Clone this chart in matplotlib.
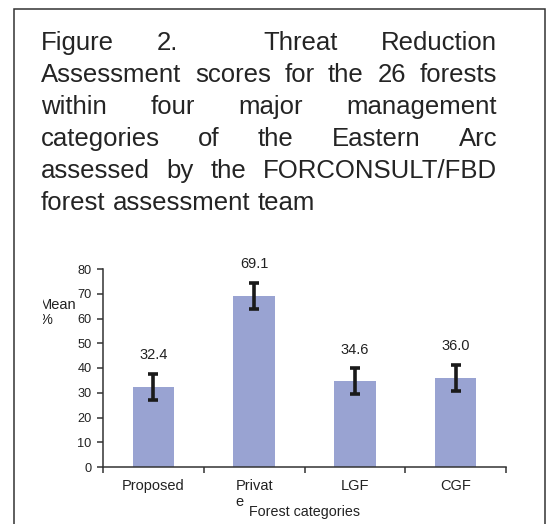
import matplotlib
matplotlib.use("Agg")
import matplotlib.pyplot as plt
from matplotlib.patches import Rectangle
from matplotlib.transforms import Bbox, TransformedBbox

plt.rcParams['font.family'] = ['Liberation Sans', 'DejaVu Sans']

# caption text, one entry per printed line
caption_lines = [
    "Figure 2. Threat Reduction",
    "Assessment scores for the 26 forests",
    "within four major management",
    "categories of the Eastern Arc",
    "assessed by the FORCONSULT/FBD",
    "forest assessment team",
]

categories = ["Proposed", "Privat\ne", "LGF", "CGF"]
mean_scores = [32.4, 69.1, 34.6, 36.0]
score_errors = [5.2, 5.3, 5.2, 5.2]
value_labels = ["32.4", "69.1", "34.6", "36.0"]
y_ticks = [0, 10, 20, 30, 40, 50, 60, 70, 80]

W, H = 552, 524
fig = plt.figure(figsize=(W / 100, H / 100), dpi=100)


def fx(px):
    return px / W


def fy(py):
    return 1 - py / H


# outer frame (runs off the bottom of the picture)
fig.patches.append(Rectangle((fx(13.5), fy(600)), fx(545) - fx(13.5), fy(8.5) - fy(600),
                             transform=fig.transFigure, fill=False, ec='#333333',
                             lw=1.1, clip_on=False))

# justified caption; the first line has a tab after "2."
renderer = fig.canvas.get_renderer()
left, right = 41, 497
cap_size = 18.5
for i, line in enumerate(caption_lines):
    words = line.split()
    yb = fy(50 + 32 * i)
    txts = [fig.text(0, yb, w, fontsize=cap_size, color='#242424', va='baseline')
            for w in words]
    widths = [t.get_window_extent(renderer).width for t in txts]
    weights = [1] * (len(words) - 1)
    if i == 0:
        weights[1] = 2
    if i == len(caption_lines) - 1:
        gaps = [0.278 * cap_size * 100 / 72] * len(weights)
    else:
        unit = (right - left - sum(widths)) / sum(weights)
        gaps = [unit * wt for wt in weights]
    x = left
    for k, (t, w) in enumerate(zip(txts, widths)):
        t.set_x(fx(x))
        if k < len(gaps):
            x += w + gaps[k]

# chart
ax = fig.add_axes([fx(103), fy(467), fx(506) - fx(103), fy(269) - fy(467)])
xpos = list(range(len(categories)))
ax.bar(xpos, mean_scores, width=0.41, color='#99a3d2', zorder=2)
ax.errorbar(xpos, mean_scores, yerr=score_errors, fmt='none', ecolor='#1a1a1a',
            elinewidth=2.6, capsize=3.6, capthick=2.6, zorder=3)

for i, (m, e, lbl) in enumerate(zip(mean_scores, score_errors, value_labels)):
    ax.annotate(lbl, (i, m + e), xytext=(0, 13.5), textcoords='offset points',
                ha='center', va='center', fontsize=10.5, color='#222222')

ax.set_xlim(-0.5, len(categories) - 0.5)
ax.set_ylim(0, 80)
ax.set_yticks(y_ticks)
ax.set_xticks([k - 0.5 for k in range(len(categories) + 1)])
ax.set_xticklabels([])
ax.set_xticks(xpos, minor=True)
ax.set_xticklabels(categories, minor=True, fontsize=10.5, color='#222222')
for lab in ax.get_xticklabels(minor=True):
    lab.set_multialignment('left')

ax.tick_params(axis='x', which='major', direction='out', length=4, width=1.1, color='#333333')
ax.tick_params(axis='x', which='minor', length=0, pad=8.5)
ax.tick_params(axis='y', direction='out', length=4.3, width=1.1, color='#333333',
               labelsize=9.2, labelcolor='#222222', pad=4.0)

for side in ['top', 'right']:
    ax.spines[side].set_visible(False)
for side in ['left', 'bottom']:
    ax.spines[side].set_color('#333333')
    ax.spines[side].set_linewidth(1.1)

# y label, clipped on its left like the source
ylab = fig.text(fx(40), fy(312.5), "Mean\n%", ha='left', va='center', fontsize=10.5,
                color='#222222', linespacing=1.15)
ylab.set_clip_box(TransformedBbox(Bbox([[fx(43), 0], [1, 1]]), fig.transFigure))
ylab.set_clip_on(True)

fig.text(fx(304.5), fy(512), "Forest categories", ha='center', va='center',
         fontsize=10.3, color='#222222')

fig.savefig("out.png", dpi=100)
